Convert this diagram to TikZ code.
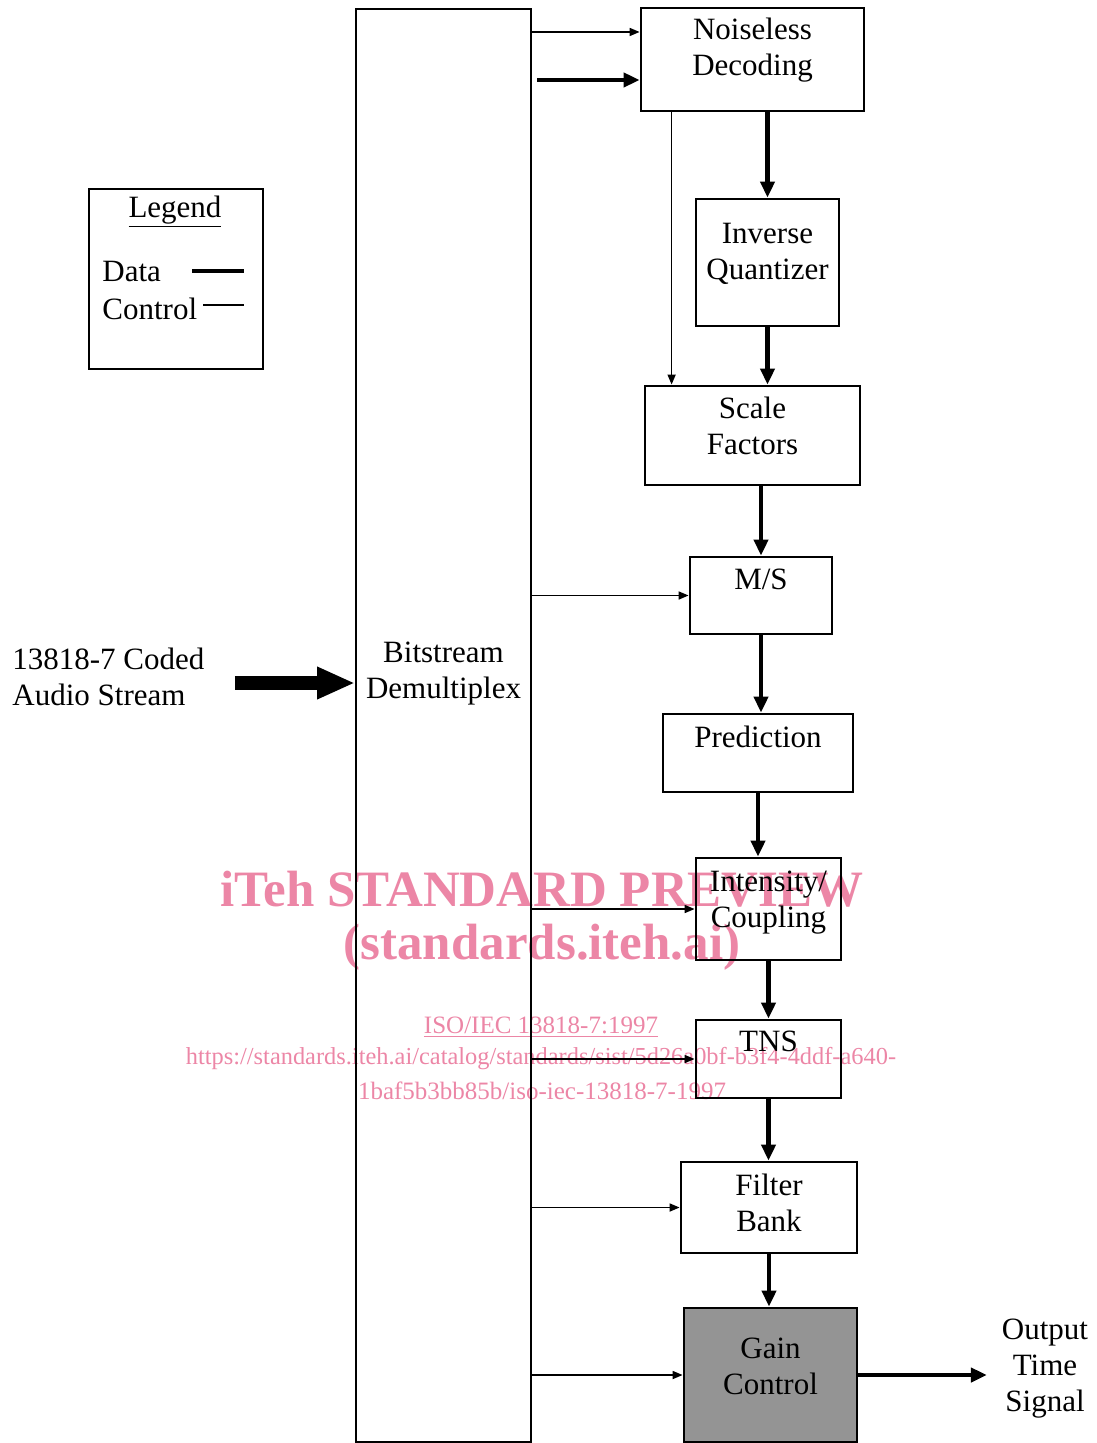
\documentclass[tikz,border=0pt]{standalone}
\usepackage{fontspec}
\setmainfont{Liberation Serif}
\usetikzlibrary{arrows.meta}
\definecolor{wmpink}{RGB}{236,134,166}

\begin{document}
\begin{tikzpicture}[x=0.5pt,y=-0.5pt,font=\fontsize{15.5}{18}\selectfont,
  blk/.style={draw,line width=1.4pt,inner sep=2pt,align=center,text height=11pt},
  blk2/.style={blk,text height=29pt},
  ctl/.style={-{Triangle[length=5pt,width=4pt]},line width=0.8pt},
  dat/.style={-{Triangle[length=8pt,width=7pt]},line width=2.2pt},
  wm/.style={text=wmpink,font=\fontsize{12.5}{16}\selectfont}]
\useasboundingbox (0,0) rectangle (1096,1443);

\node[wm,font=\bfseries\fontsize{25.5}{30}\selectfont] (wm1) at (542,889) {iTeh STANDARD PREVIEW};
\node[wm,font=\bfseries\fontsize{25.5}{30}\selectfont] (wm2) at (542,947) {(standards.iteh.ai)};
\node[wm] (wm3) at (541,1027) {\underline{ISO/IEC 13818-7:1997}};
\node[wm,font=\fontsize{12.2}{16}\selectfont] (wm4) at (541,1059) {https://standards.iteh.ai/catalog/standards/sist/5d26a0bf-b3f4-4ddf-a640-};
\node[wm] (wm5) at (542,1091) {1baf5b3bb85b/iso-iec-13818-7-1997};

\node[draw,line width=1pt,minimum width=87.5pt,minimum height=716.5pt,align=center,text height=29pt,text depth=56.5pt] (dmx) at (443.5,725.5) {Bitstream\\Demultiplex};
\node[blk2,minimum width=111.5pt,minimum height=51.5pt,text depth=12.5pt] (nd) at (752.5,59.5) {Noiseless\\Decoding};
\node[blk2,minimum width=71.5pt,minimum height=63.5pt,text depth=11.5pt] (iq) at (767.5,262.5) {Inverse\\Quantizer};
\node[blk2,minimum width=107.5pt,minimum height=49.5pt,text depth=10.5pt] (sf) at (752.5,435.5) {Scale\\Factors};
\node[blk,minimum width=71pt,minimum height=38.5pt,text depth=17.5pt] (ms) at (761,595.5) {M/S};
\node[blk,minimum width=95pt,minimum height=39pt,text depth=17pt] (pr) at (758,753) {Prediction};
\node[blk2,minimum width=72.5pt,minimum height=51pt,text depth=11pt] (ic) at (768.5,909) {Intensity/\\Coupling};
\node[blk,minimum width=72.5pt,minimum height=39pt,text depth=19pt] (tns) at (768.5,1059) {TNS};
\node[blk2,minimum width=88pt,minimum height=45.5pt,text depth=5.5pt] (fb) at (769,1207.5) {Filter\\Bank};
\node[blk2,fill=black!42,minimum width=86.5pt,minimum height=67pt,text depth=10pt] (gc) at (770.5,1375) {Gain\\Control};

\node[anchor=west,align=left,inner sep=0pt] (src) at (12,677) {13818-7 Coded\\Audio Stream};
\node[align=center] (out) at (1045,1369) {Output\\Time\\Signal};

\node[draw,line width=1.2pt,minimum width=87pt,minimum height=90pt] (leg) at (176,279) {};
\node (legt) at (175,212) {\underline{Legend}};
\node[anchor=west,inner sep=0pt] (ldat) at (102,272) {Data};
\node[anchor=west,inner sep=0pt] (lctl) at (102,309) {Control};
\draw[line width=2.2pt] (192,271) -- (244,271);
\draw[line width=0.8pt] (203,305) -- (244,305);

\draw[line width=7pt,-{Triangle[length=19pt,width=15pt]}] ([shift={(15pt,-3pt)}]src.east) -- ([yshift=-3pt]src.east -| dmx.west);

\coordinate (c1) at ([yshift=13.75pt]nd.west);
\coordinate (c2) at ([yshift=-10.25pt]nd.west);
\draw[ctl] (dmx.east |- c1) -- (c1);
\draw[dat] ([xshift=2.5pt]dmx.east |- c2) -- (c2);
\draw[ctl] ([xshift=16pt]nd.south west) -- ([xshift=16pt]nd.south west |- sf.north);
\draw[ctl] (dmx.east |- ms.west) -- (ms.west);
\draw[ctl] (dmx.east |- ic.west) -- (ic.west);
\draw[ctl] (dmx.east |- tns.west) -- (tns.west);
\draw[ctl] (dmx.east |- fb.west) -- (fb.west);
\draw[ctl] (dmx.east |- gc.west) -- (gc.west);

\draw[dat] (iq.north |- nd.south) -- (iq.north);
\draw[dat] (iq.south) -- (iq.south |- sf.north);
\draw[dat] (ms.north |- sf.south) -- (ms.north);
\draw[dat] (ms.south) -- (ms.south |- pr.north);
\draw[dat] (pr.south) -- (pr.south |- ic.north);
\draw[dat] (ic.south) -- (tns.north);
\draw[dat] (tns.south) -- (tns.south |- fb.north);
\draw[dat] (fb.south) -- (fb.south |- gc.north);
\draw[dat,shorten >=4pt] (gc.east) -- (gc.east -| out.west);
\end{tikzpicture}
\end{document}
